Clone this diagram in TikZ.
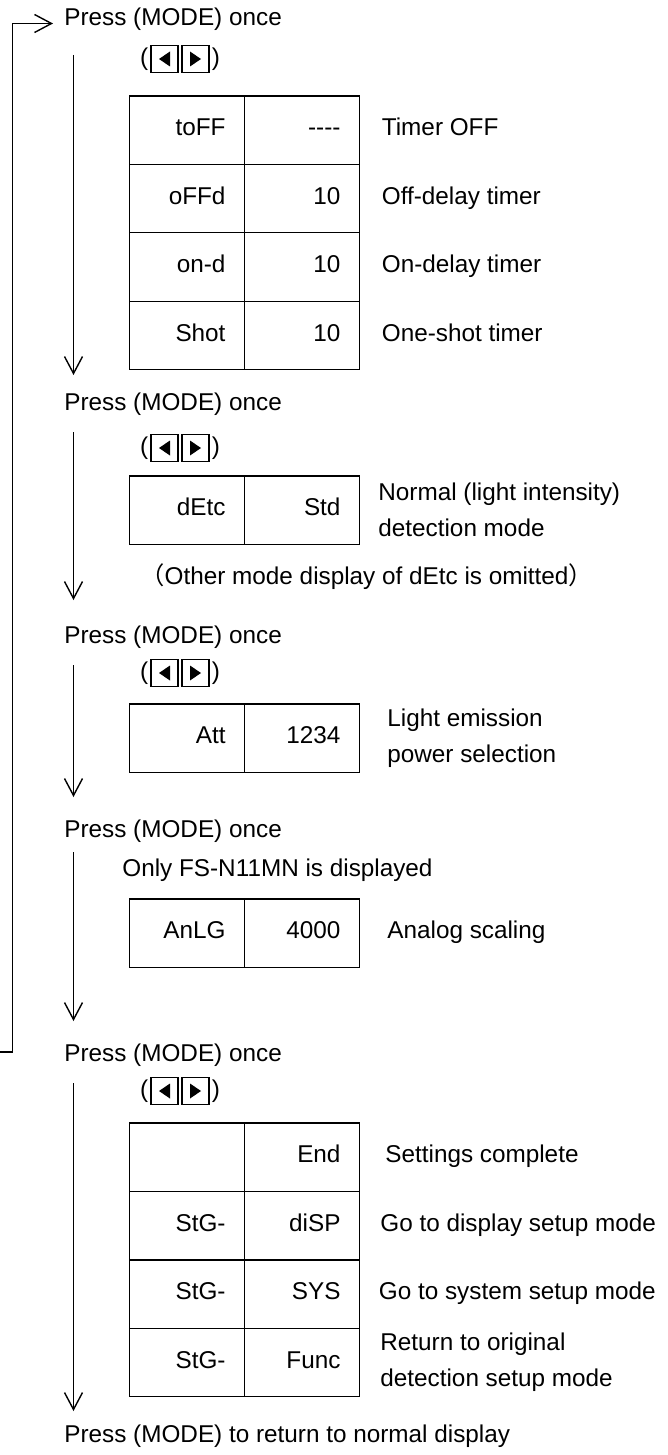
\documentclass[tikz,border=0pt]{standalone}
\usepackage{fontspec}
\setmainfont{Liberation Sans}
\newfontfamily\cjkfont{Noto Sans CJK JP}
\usetikzlibrary{arrows.meta,positioning}

\tikzset{
  flow/.style={line width=0.65pt, -{Straight Barb[length=8.5pt,width=9pt,line width=0.7pt]}},
  press/.style={anchor=base west, inner sep=0pt},
  cell/.style={draw, line width=0.7pt, outer sep=0pt, minimum height=34.2pt,
    text width=38.5pt, inner xsep=9.5pt, align=right, text height=9pt, text depth=3.3pt},
  desc/.style={inner sep=0pt, text height=9pt, text depth=3.3pt},
  desctwo/.style={inner sep=0pt, align=left},
  keybox/.style={draw, line width=0.8pt, minimum width=13.5pt, minimum height=13.5pt,
    inner sep=0pt, outer sep=0pt},
  keyL/.style={keybox, path picture={\fill ([xshift=-2.75pt]path picture bounding box.center)
    -- ++(5.5pt,3.75pt) -- ++(0pt,-7.5pt) -- cycle;}},
  keyR/.style={keybox, path picture={\fill ([xshift=2.75pt]path picture bounding box.center)
    -- ++(-5.5pt,3.75pt) -- ++(0pt,-7.5pt) -- cycle;}},
  paren/.style={inner sep=0pt},
}

\begin{document}
\begin{tikzpicture}[x=0.5pt, y=-0.5pt, font=\fontsize{12.15pt}{18pt}\selectfont]
    \useasboundingbox (0,0) rectangle (668,1455);

    % MODE prompts
    \foreach \n/\y in {1/26, 2/410, 3/643, 4/837, 5/1061} {
        \node[press] (p\n) at (64,\y) {Press (MODE) once};
    }
    \node[press] (p6) at (64,1442) {Press (MODE) to return to normal display};

    % Arrow keys
    \foreach \n/\y in {1/59, 2/448, 3/673, 5/1091} {
        \node[keyL] (kl\n) at (164.5,\y) {};
        \node[keyR, right=2pt of kl\n] (kr\n) {};
        \node[paren, left=1.2pt of kl\n] (ko\n) {(};
        \node[paren, right=1.2pt of kr\n] (kc\n) {)};
    }

    % Timer
    \foreach \a/\b/\c [count=\i from 0] in {toFF/{-}{-}{-}{-}/Timer OFF, oFFd/10/Off-delay timer,
        on-d/10/On-delay timer, Shot/10/One-shot timer} {
        \node[cell] (ta\i) at (187,{130.2+68.4*\i}) {\a};
        \node[cell, right=0pt of ta\i] (tb\i) {\b};
        \node[desc, right=11pt of tb\i] (tc\i) {\c};
    }

    % Detection mode
    \node[cell] (da) at (187,510) {dEtc};
    \node[cell, right=0pt of da] (db) {Std};
    \node[desctwo, right=9.25pt of db] (dc) {Normal (light intensity)\\detection mode};
    \node[press] (dnote) at (140,584) {{\cjkfont （}Other mode display of dEtc is omitted{\cjkfont ）}};

    % Emission power
    \node[cell] (aa) at (187,738) {Att};
    \node[cell, right=0pt of aa] (ab) {1234};
    \node[desctwo, right=13.75pt of ab] (ac) {Light emission\\power selection};

    % Analog scaling
    \node[press] (gnote) at (122,876) {Only FS-N11MN is displayed};
    \node[cell] (ga) at (187,933) {AnLG};
    \node[cell, right=0pt of ga] (gb) {4000};
    \node[desc, right=13.75pt of gb] (gc) {Analog scaling};

    % End of settings
    \foreach \a/\b/\c/\g [count=\i from 0] in {/End/Settings complete/12.75,
        StG-/diSP/Go to display setup mode/10.25, StG-/SYS/Go to system setup mode/9.5} {
        \node[cell] (sa\i) at (187,{1157.2+68.4*\i}) {\a};
        \node[cell, right=0pt of sa\i] (sb\i) {\b};
        \node[desc, right=\g pt of sb\i] (sc\i) {\c};
    }
    \node[cell] (sa3) at (187,1362.4) {StG-};
    \node[cell, right=0pt of sa3] (sb3) {Func};
    \node[desctwo, right=10.25pt of sb3] (sc3) {Return to original\\detection setup mode};

    % Flow arrows
    \foreach \n/\s/\e in {1/55/375, 2/432/600, 3/665/797, 4/852/1021, 5/1083/1411} {
        \coordinate (as\n) at (73.5,\s);
        \coordinate (ae\n) at (73.5,\e);
        \draw[flow] (as\n) -- (ae\n);
    }

    % Loop back
    \coordinate (loopin) at (0,1052);
    \coordinate (looptip) at ([shift={(-11,-2.5)}]p1.base west);
    \draw[flow] (loopin) -- ++(12.5,0) |- (looptip);
\end{tikzpicture}
\end{document}
